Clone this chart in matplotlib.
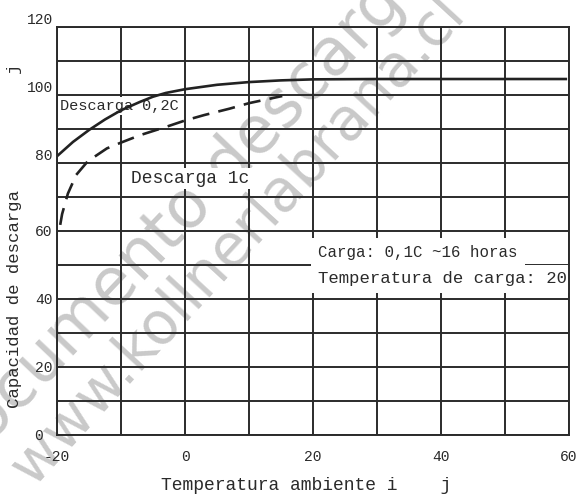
import matplotlib.pyplot as plt


# =========================
# DATA
# =========================

temp_02c = [-20, -17.5, -15, -12.5, -10, -7, -5, -3, 0, 5, 10, 15, 20, 30, 40, 50, 59.5]
cap_02c = [82, 86.2, 89.7, 92.8, 95.5, 98, 99.5, 100.6, 101.7, 103, 103.8, 104.3, 104.6, 104.7, 104.7, 104.7, 104.7]

temp_1c = [-19.5, -19.2, -18.3, -17, -15.2, -12.2, -10, -7, -3, 0, 3, 7, 10, 15.2]
cap_1c = [61.8, 65, 71, 76.5, 80.5, 84.3, 86, 88.2, 90.6, 92.5, 94.1, 96, 97.6, 99.7]

x_ticks = [-20, -10, 0, 10, 20, 30, 40, 50, 60]
x_tick_labels = ["-20", "", "0", "", "20", "", "40", "", "60"]

y_ticks = [0, 10, 20, 30, 40, 50, 60, 70, 80, 90, 100, 110, 120]
y_tick_labels = ["0 ", "", "20", "", "40", "", "60", "", "80", "", "100", "", "120"]


# =========================
# FIGURE
# =========================

plt.rcParams['font.family'] = ['Liberation Mono', 'DejaVu Sans']

ink = "#2b2b2b"
txt = "#2a2a2a"

fig = plt.figure(figsize=(5.8, 4.95), dpi=100)

ax = fig.add_axes([57 / 580, 1 - 435 / 495, 512 / 580, 408 / 495])

ax.set_xlim(-20, 60)
ax.set_ylim(0, 120)

ax.set_xticks(x_ticks)
ax.set_xticklabels(x_tick_labels)
ax.set_yticks(y_ticks)
ax.set_yticklabels(y_tick_labels)

ax.tick_params(axis="both", length=0, labelsize=10.5, colors=txt)
ax.tick_params(axis="x", pad=11)
ax.tick_params(axis="y", pad=3)

# upper labels sit on their gridline, lower ones are centred on it
for value, label in zip(y_ticks, ax.get_yticklabels()):
    if value >= 80:
        label.set_verticalalignment("bottom")

ax.grid(True, color=ink, linewidth=1.4)
ax.set_axisbelow(True)

for spine in ax.spines.values():
    spine.set_color(ink)
    spine.set_linewidth(1.4)
    spine.set_zorder(6)


# =========================
# WATERMARK (behind the grid)
# =========================

mark_color = "#c9c9c9"

ax.text(
    248 / 580, 1 - 146 / 495,
    "documento descargado de",
    transform=fig.transFigure, clip_on=False,
    fontsize=47, family="DejaVu Sans", color=mark_color,
    rotation=46.5, rotation_mode="anchor",
    ha="center", va="center", zorder=0.2
)

ax.text(
    238 / 580, 1 - 240 / 495,
    "www.kollnerlabrana.cl",
    transform=fig.transFigure, clip_on=False,
    fontsize=42, family="DejaVu Sans", color=mark_color,
    rotation=47.4, rotation_mode="anchor",
    ha="center", va="center", zorder=0.2
)


# =========================
# CURVES
# =========================

ax.plot(temp_02c, cap_02c, color="#222222", linewidth=1.9, zorder=5)

ax.plot(
    temp_1c, cap_1c,
    color="#222222", linewidth=1.9,
    linestyle=(0, (6.5, 3.5)), zorder=5
)


# =========================
# ANNOTATIONS
# =========================

box = dict(facecolor="white", edgecolor="none", pad=1.5)

ax.text(-19.5, 96.8, "Descarga 0,2C", fontsize=11, color=txt,
        ha="left", va="center", bbox=box, zorder=4)

ax.text(-8.4, 75.5, "Descarga 1c", fontsize=13, color=txt,
        ha="left", va="center", bbox=box, zorder=4)

ax.text(20.8, 53.7, "Carga: 0,1C ~16 horas", fontsize=11.3, color=txt,
        ha="left", va="center",
        bbox=dict(facecolor="white", edgecolor="none", pad=5), zorder=4)

ax.text(20.8, 45.9, "Temperatura de carga: 20", fontsize=12.4, color=txt,
        ha="left", va="center",
        bbox=dict(facecolor="white", edgecolor="none", pad=5), zorder=4)


# =========================
# AXIS LABELS
# =========================

fig.text(306 / 580, 1 - 485 / 495, "Temperatura ambiente i    j",
         fontsize=13, color=txt, ha="center", va="center")

fig.text(15 / 580, 1 - 299 / 495, "Capacidad de descarga",
         fontsize=12.5, color=txt, rotation=90,
         ha="center", va="center")

fig.text(13 / 580, 1 - 68 / 495, "j",
         fontsize=12.5, color=txt, rotation=90,
         ha="center", va="center")

fig.savefig("out.png", dpi=100)
